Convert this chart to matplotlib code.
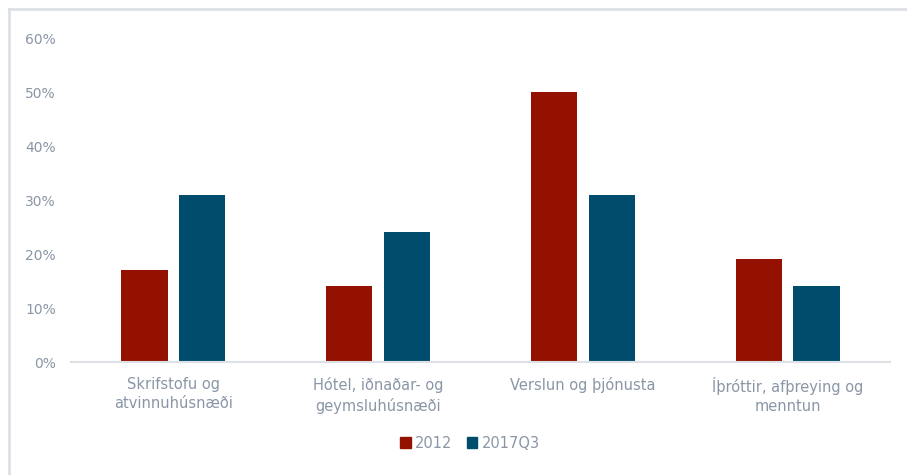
import matplotlib
matplotlib.use("Agg")
import matplotlib.pyplot as plt
import numpy as np
from matplotlib.lines import Line2D
from matplotlib.patches import Patch

categories = ["Skrifstofu og\natvinnuhúsnæði", "Hótel, iðnaðar- og\ngeymsluhúsnæði",
              "Verslun og þjónusta", "Íþróttir, afþreying og\nmenntun"]
series_names = ["2012", "2017Q3"]
values_2012 = [17, 14, 50, 19]
values_2017 = [31, 24, 31, 14]
yticks = [0, 10, 20, 30, 40, 50, 60]

c_red = "#941100"
c_blue = "#004C6D"
c_text = "#8A96A6"
c_axis = "#DDE1E6"

plt.rcParams['font.family'] = ['DejaVu Sans']

fig = plt.figure(figsize=(9.07, 4.75), dpi=100)
ax = fig.add_axes([71/907, 1-362/475, (890-71)/907, (362-38)/475])

x = np.arange(len(categories))
w = 0.225
gap = 0.057
ax.bar(x - (w+gap)/2, values_2012, w, color=c_red, label=series_names[0])
ax.bar(x + (w+gap)/2, values_2017, w, color=c_blue, label=series_names[1])

ax.set_xlim(-0.5, len(categories)-0.5)
ax.set_ylim(0, 60)
ax.set_yticks(yticks)
ax.set_yticklabels([f"{v}%" for v in yticks], color=c_text, fontsize=10)
ax.set_xticks(x)
ax.set_xticklabels(categories, color=c_text, fontsize=10.5, linespacing=1.35)
ax.tick_params(axis='both', length=0)
ax.tick_params(axis='y', pad=11)
ax.tick_params(axis='x', pad=11)
for s in ["top", "right", "left"]:
    ax.spines[s].set_visible(False)
ax.spines["bottom"].set_color(c_axis)
ax.spines["bottom"].set_linewidth(1.5)

handles = [Patch(color=c_red), Patch(color=c_blue)]
leg = fig.legend(handles, series_names, loc="center", bbox_to_anchor=(470/907, 1-443/475),
                 ncol=2, frameon=False, fontsize=10.5, handlelength=0.7, handleheight=0.7,
                 handletextpad=0.3, columnspacing=1.0)
for t in leg.get_texts():
    t.set_color(c_text)

fig.add_artist(Line2D([8.5/907, 8.5/907], [0, 1-8.5/475], color=c_axis, lw=2))
fig.add_artist(Line2D([8.5/907, 1], [1-8.5/475, 1-8.5/475], color=c_axis, lw=2))

fig.savefig("out.png", dpi=100)
